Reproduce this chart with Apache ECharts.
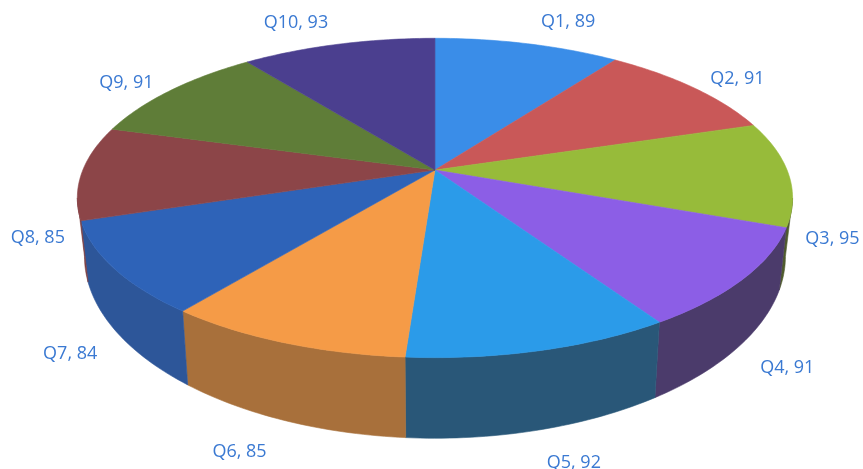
<!DOCTYPE html>
<html>
<head>
<meta charset="utf-8">
<script src="https://cdn.jsdelivr.net/npm/echarts@6/dist/echarts.min.js"></script>
<style>
  html, body { margin: 0; padding: 0; background: #ffffff; }
  #main { width: 863px; height: 469px; }
</style>
</head>
<body>
<div id="main"></div>
<script>
// 数据
var categories = ['Q1', 'Q2', 'Q3', 'Q4', 'Q5', 'Q6', 'Q7', 'Q8', 'Q9', 'Q10'];
var values = [89, 91, 95, 91, 92, 85, 84, 85, 91, 93];
var colors = ['#3a8de8', '#c95858', '#97bb3a', '#8c5ee6', '#2b9be9',
              '#f59b47', '#2e63b8', '#8c4548', '#5f7d38', '#4b3f8f'];

// 累计角度（度），从12点方向顺时针
var total = 0;
for (var i = 0; i < values.length; i++) total += values[i];
var sliceData = [];
var acc = 0;
for (var i = 0; i < values.length; i++) {
    var a0 = acc / total * 360;
    acc += values[i];
    var a1 = acc / total * 360;
    sliceData.push([a0, a1, values[i], i]);
}

// 透视参数
var Q = 0.175;          // 透视强度
var SIDE_MIN = Math.acos(-Q) * 180 / Math.PI;   // 侧面可见起点
var SIDE_MAX = 360 - SIDE_MIN;

function shade(hex, k) {
    var r = parseInt(hex.substr(1, 2), 16);
    var g = parseInt(hex.substr(3, 2), 16);
    var b = parseInt(hex.substr(5, 2), 16);
    function f(v) { return Math.round(v * k + (1 - k) * 40); }
    return 'rgb(' + f(r) + ',' + f(g) + ',' + f(b) + ')';
}

function renderItem(params, api) {
    var W = api.getWidth(), H = api.getHeight();
    var CX = W * 0.504, CY = H * 0.3625;
    var A = W * 0.408, B = H * 0.33, T0 = H * 0.117;

    function proj(r, deg, h) {
        var th = deg * Math.PI / 180;
        var s = Math.sin(th), c = Math.cos(th);
        var d = 1 + Q * r * c;
        var x = A * r * s / d;
        var y = -B * r * c / d;
        var t = h * T0 / (d * d);
        return [CX + x * (1 - 0.02 * h), CY + y + t];
    }
    function arc(from, to, h) {
        var pts = [];
        var n = Math.max(2, Math.ceil(Math.abs(to - from)));
        for (var k = 0; k <= n; k++) {
            pts.push(proj(1, from + (to - from) * k / n, h));
        }
        return pts;
    }

    var a0 = api.value(0), a1 = api.value(1);
    var idx = api.value(3);
    var col = colors[idx];
    var children = [];

    // 侧面
    var lo = Math.max(a0, SIDE_MIN), hi = Math.min(a1, SIDE_MAX);
    var hasSide = lo < hi;
    if (hasSide) {
        var pts = arc(lo, hi, 0).concat(arc(hi, lo, 1));
        var mid = (lo + hi) / 2 * Math.PI / 180;
        var k = Math.max(0.35, 0.5 - 0.35 * Math.sin(mid));
        var sc = shade(col, k);
        children.push({
            type: 'polygon',
            shape: { points: pts },
            style: { fill: sc, stroke: sc, lineWidth: 0.6 }
        });
    }

    // 顶面
    var top = [[CX, CY]].concat(arc(a0, a1, 0));
    children.push({
        type: 'polygon',
        shape: { points: top },
        style: { fill: col, stroke: col, lineWidth: 0.6 }
    });

    // 标签
    var m = (a0 + a1) / 2;
    var mr = m * Math.PI / 180;
    var p = proj(1, m, 0);
    var sn = Math.sin(mr), cs = Math.cos(mr);
    var dx = 44 * Math.max(-1, Math.min(1, sn * 3));
    var dy = -24 * cs * Math.abs(cs);
    if (hasSide) {
        var d = 1 + Q * cs;
        dy += T0 / (d * d) + 10;
    }
    children.push({
        type: 'text',
        z2: 10,
        style: {
            text: categories[idx] + ', ' + api.value(2),
            x: p[0] + dx,
            y: p[1] + dy,
            textAlign: 'center',
            textVerticalAlign: 'middle',
            fill: '#3a79d2',
            font: '18px "Open Sans", sans-serif'
        }
    });

    return { type: 'group', children: children };
}

var myChart = echarts.init(document.getElementById('main'));

var option = {
    backgroundColor: '#ffffff',
    animation: false,
    series: [{
        type: 'custom',
        coordinateSystem: 'none',
        renderItem: renderItem,
        data: sliceData
    }]
};

myChart.setOption(option);
</script>
</body>
</html>
